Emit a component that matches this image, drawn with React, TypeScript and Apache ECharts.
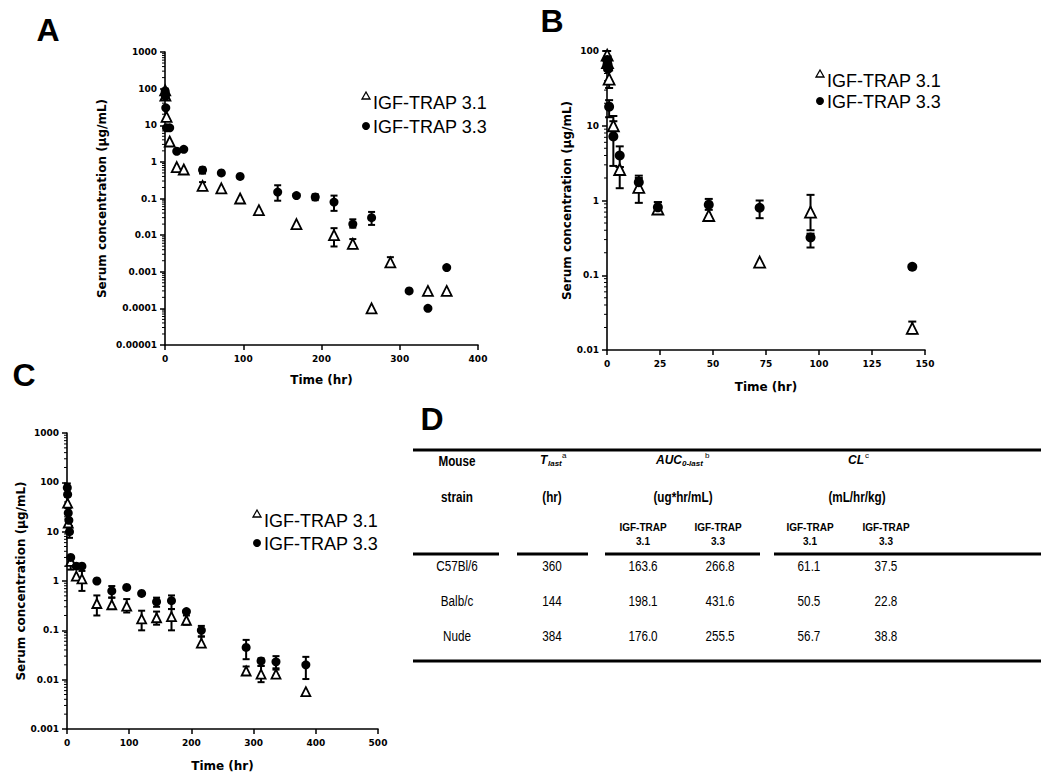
import React, { useEffect, useRef } from "react";
import * as echarts from "echarts";

// ---------- Panel A (C57Bl/6) ----------
const timeA31 = [0.25, 0.5, 2, 6, 15, 24, 48, 72, 96, 120, 168, 216, 240, 264, 288, 336, 360];
const concA31 = [90, 65, 17, 3.6, 0.72, 0.62, 0.22, 0.19, 0.1, 0.048, 0.02, 0.01, 0.0058, 0.0001, 0.0018, 0.0003, 0.0003];
const timeA33 = [0.25, 0.5, 1, 2, 6, 15, 24, 48, 72, 96, 144, 168, 192, 216, 240, 264, 312, 336, 360];
const concA33 = [85, 62, 30, 8.5, 8.5, 1.95, 2.2, 0.6, 0.5, 0.4, 0.15, 0.12, 0.11, 0.08, 0.02, 0.03, 0.0003, 0.0001, 0.0013];
const errA31 = [[48, 0.17, 0.28], [216, 0.0049, 0.0155], [240, 0.0044, 0.0078], [288, 0.0015, 0.0025]];
const errA33 = [[0.25, 70, 100], [48, 0.48, 0.7], [144, 0.087, 0.23], [192, 0.09, 0.13], [216, 0.046, 0.12], [240, 0.016, 0.027], [264, 0.019, 0.043]];
const yTicksA = ["0.00001", "0.0001", "0.001", "0.01", "0.1", "1", "10", "100", "1000"];

// ---------- Panel B (Balb/c) ----------
const timeB31 = [0.083, 0.25, 1, 3, 6, 15, 24, 48, 72, 96, 144];
const concB31 = [88, 70, 42, 10, 2.6, 1.5, 0.77, 0.63, 0.15, 0.7, 0.0195];
const timeB33 = [0.083, 0.25, 0.5, 1, 3, 6, 15, 24, 48, 72, 96, 144];
const concB33 = [76, 66, 58, 18, 7.2, 4.0, 1.76, 0.81, 0.88, 0.8, 0.32, 0.13];
const errB31 = [[0.083, 70, 100], [1, 32, 55], [3, 7.5, 13.5], [6, 1.46, 2.8], [15, 0.93, 2.0], [24, 0.68, 0.95], [96, 0.4, 1.19], [144, 0.0167, 0.024]];
const errB33 = [[0.25, 55, 85], [1, 13, 22], [3, 2.9, 11.5], [6, 2.8, 5.3], [15, 1.4, 2.15], [24, 0.68, 0.95], [48, 0.75, 1.05], [72, 0.58, 1.0], [96, 0.235, 0.36]];
const yTicksB = ["0.01", "0.1", "1", "10", "100"];

// ---------- Panel C (Nude) ----------
const timeC31 = [1, 2, 6, 15, 24, 48, 72, 96, 120, 144, 168, 192, 216, 288, 312, 336, 384];
const concC31 = [38, 15, 2.5, 1.26, 1.1, 0.35, 0.33, 0.31, 0.17, 0.18, 0.19, 0.16, 0.055, 0.015, 0.013, 0.013, 0.0057];
const timeC33 = [0.5, 1, 2, 3, 4, 6, 15, 24, 48, 72, 96, 120, 144, 168, 192, 216, 288, 312, 336, 384];
const concC33 = [78, 57, 24, 17, 10, 3.0, 2.0, 2.0, 1.0, 0.63, 0.74, 0.56, 0.38, 0.4, 0.24, 0.1, 0.045, 0.024, 0.023, 0.02];
const errC31 = [[6, 1.7, 3.1], [24, 0.63, 1.6], [48, 0.2, 0.51], [72, 0.27, 0.46], [96, 0.23, 0.43], [120, 0.1, 0.25], [144, 0.13, 0.24], [168, 0.1, 0.27], [192, 0.13, 0.2], [216, 0.05, 0.075], [288, 0.013, 0.0185], [312, 0.0089, 0.019], [336, 0.012, 0.016]];
const errC33 = [[0.5, 55, 95], [2, 18, 30], [4, 7.5, 13], [6, 2.4, 3.2], [72, 0.46, 0.79], [144, 0.3, 0.46], [168, 0.27, 0.51], [216, 0.075, 0.123], [288, 0.026, 0.064], [312, 0.019, 0.027], [336, 0.017, 0.03], [384, 0.0103, 0.029]];
const yTicksC = ["0.001", "0.01", "0.1", "1", "10", "100", "1000"];

// ---------- Table D ----------
const strains = ["C57Bl/6", "Balb/c", "Nude"];
const tlast = ["360", "144", "384"];
const auc31 = ["163.6", "198.1", "176.0"];
const auc33 = ["266.8", "431.6", "255.5"];
const cl31 = ["61.1", "50.5", "56.7"];
const cl33 = ["37.5", "22.8", "38.8"];
const seriesNames = ["IGF-TRAP 3.1", "IGF-TRAP 3.3"];

const TICK_FONT = "DejaVu Sans";
const ARIAL = "'Liberation Sans', Arial, sans-serif";

function zip(t: number[], c: number[]) {
  return t.map((x, i) => [x, c[i]]);
}

function minorTicks(minExp: number, maxExp: number) {
  const out: number[][] = [];
  for (let e = minExp; e < maxExp; e++) {
    for (let k = 2; k <= 9; k++) out.push([0, k * Math.pow(10, e)]);
  }
  return out;
}

function makeX(gridIndex: number, max: number, interval: number, nameGap: number) {
  return {
    type: "value", gridIndex, min: 0, max, interval,
    name: "Time (hr)", nameLocation: "middle", nameGap,
    nameTextStyle: { color: "#000", fontFamily: TICK_FONT, fontWeight: "bold", fontSize: 12 },
    axisLine: { show: true, onZero: false, lineStyle: { color: "#000", width: 1.6 } },
    axisTick: { show: true, length: 5, lineStyle: { color: "#000", width: 1.5 } },
    axisLabel: { color: "#000", fontFamily: TICK_FONT, fontWeight: "bold", fontSize: 9, margin: 9 },
    splitLine: { show: false },
  };
}

function makeY(gridIndex: number, min: number, max: number, labels: string[], nameGap: number) {
  return {
    type: "log", logBase: 10, gridIndex, min, max,
    name: "Serum concentration (µg/mL)", nameLocation: "middle", nameGap,
    nameTextStyle: { color: "#000", fontFamily: TICK_FONT, fontWeight: "bold", fontSize: 12 },
    axisLine: { show: true, onZero: false, lineStyle: { color: "#000", width: 1.6 } },
    axisTick: { show: true, length: 5, lineStyle: { color: "#000", width: 1.5 } },
    axisLabel: {
      color: "#000", fontFamily: TICK_FONT, fontWeight: "bold", fontSize: 9, margin: 8,
      formatter: (v: number) => labels[Math.round(Math.log10(v / min))] ?? "",
    },
    splitLine: { show: false },
  };
}

function errSeries(idx: number, data: number[][], cap: number) {
  return {
    type: "custom", xAxisIndex: idx, yAxisIndex: idx, z: 2, silent: true,
    encode: { x: 0, y: [1, 2] },
    data,
    renderItem: (_p: any, api: any) => {
      const x = api.value(0);
      const lo = api.coord([x, api.value(1)]);
      const hi = api.coord([x, api.value(2)]);
      const st = { stroke: "#000", lineWidth: 2 };
      return {
        type: "group",
        children: [
          { type: "line", shape: { x1: lo[0], y1: lo[1], x2: hi[0], y2: hi[1] }, style: st },
          { type: "line", shape: { x1: hi[0] - cap, y1: hi[1], x2: hi[0] + cap, y2: hi[1] }, style: st },
          { type: "line", shape: { x1: lo[0] - cap, y1: lo[1], x2: lo[0] + cap, y2: lo[1] }, style: st },
        ],
      };
    },
  };
}

function minorSeries(idx: number, minExp: number, maxExp: number) {
  return {
    type: "custom", xAxisIndex: idx, yAxisIndex: idx, z: 1, silent: true, clip: false,
    encode: { x: 0, y: 1 },
    data: minorTicks(minExp, maxExp),
    renderItem: (_p: any, api: any) => {
      const p = api.coord([0, api.value(1)]);
      return { type: "line", shape: { x1: p[0] - 3, y1: p[1], x2: p[0], y2: p[1] }, style: { stroke: "#000", lineWidth: 1 } };
    },
  };
}

function scatterPair(idx: number, d31: number[][], d33: number[][], triSize: number, circSize: number) {
  return [
    {
      type: "scatter", name: seriesNames[0], xAxisIndex: idx, yAxisIndex: idx, z: 4,
      symbol: "triangle", symbolSize: triSize, data: d31,
      itemStyle: { color: "#fff", borderColor: "#000", borderWidth: 1.8, opacity: 1 },
    },
    {
      type: "scatter", name: seriesNames[1], xAxisIndex: idx, yAxisIndex: idx, z: 5,
      symbol: "circle", symbolSize: circSize, data: d33,
      itemStyle: { color: "#000", opacity: 1 },
    },
  ];
}

function legendGraphic(x: number, y1: number, y2: number) {
  return [
    { type: "polygon", shape: { points: [[x, y1 - 11], [x - 4, y1 - 4], [x + 4, y1 - 4]] }, style: { fill: "#fff", stroke: "#000", lineWidth: 1.3 } },
    { type: "text", style: { x: x + 7, y: y1, text: seriesNames[0], fontFamily: ARIAL, fontSize: 18, fill: "#000", align: "left", verticalAlign: "middle" } },
    { type: "circle", shape: { cx: x, cy: y2 - 1, r: 4 }, style: { fill: "#000" } },
    { type: "text", style: { x: x + 7, y: y2, text: seriesNames[1], fontFamily: ARIAL, fontSize: 18, fill: "#000", align: "left", verticalAlign: "middle" } },
  ];
}

function txt(x: number, y: number, text: string, size: number, opts: any = {}) {
  return {
    type: "text",
    x, y,
    scaleX: opts.scaleX ?? 1,
    style: {
      x: 0, y: 0, text, fontSize: size, fontFamily: ARIAL, fontWeight: opts.weight ?? "normal",
      fontStyle: opts.style ?? "normal", fill: "#000", align: opts.align ?? "center", verticalAlign: "middle",
    },
  };
}

function hline(x1: number, x2: number, y: number, w = 3) {
  return { type: "line", shape: { x1, y1: y, x2, y2: y }, style: { stroke: "#000", lineWidth: w } };
}

function tableGraphic() {
  const els: any[] = [];
  const N = 0.78; // narrow (Calibri-like) horizontal scale
  els.push(hline(413, 1041, 450));
  els.push(txt(457, 461, "Mouse", 15, { weight: "bold", scaleX: N }));
  els.push(txt(457, 497, "strain", 15, { weight: "bold", scaleX: N }));
  // T_last^a
  els.push(txt(540, 460, "T", 12, { weight: "bold", style: "italic", align: "left" }));
  els.push(txt(548, 463, "last", 8, { weight: "bold", style: "italic", align: "left" }));
  els.push(txt(562, 455, "a", 8, { align: "left" }));
  els.push(txt(552, 497, "(hr)", 15, { weight: "bold", scaleX: N }));
  // AUC_0-last^b
  els.push(txt(656, 460, "AUC", 12, { weight: "bold", style: "italic", align: "left" }));
  els.push(txt(682, 463, "0-last", 8, { weight: "bold", style: "italic", align: "left" }));
  els.push(txt(705, 455, "b", 8, { align: "left" }));
  els.push(txt(683, 497, "(ug*hr/mL)", 15, { weight: "bold", scaleX: N }));
  // CL^c
  els.push(txt(848, 460, "CL", 12, { weight: "bold", style: "italic", align: "left" }));
  els.push(txt(865, 455, "c", 8, { align: "left" }));
  els.push(txt(857, 497, "(mL/hr/kg)", 15, { weight: "bold", scaleX: N }));
  const subX = [643, 718, 810, 886];
  const subNames = ["3.1", "3.3", "3.1", "3.3"];
  subX.forEach((x, i) => {
    els.push(txt(x, 527, "IGF-TRAP", 10, { weight: "bold" }));
    els.push(txt(x, 541, subNames[i], 10, { weight: "bold" }));
  });
  els.push(hline(413, 499, 554));
  els.push(hline(517, 588, 554));
  els.push(hline(605, 760, 554));
  els.push(hline(774, 1041, 554));
  const rowY = [566, 601, 636];
  const cols = [strains, tlast, auc31, auc33, cl31, cl33];
  const colX = [457, 552, 643, 720, 809, 886];
  rowY.forEach((y, r) => {
    cols.forEach((col, c) => els.push(txt(colX[c], y, col[r], 15, { scaleX: N })));
  });
  els.push(hline(413, 1041, 661));
  return els;
}

function letter(x: number, y: number, t: string) {
  return { type: "text", style: { x, y, text: t, fontFamily: ARIAL, fontWeight: "bold", fontSize: 32, fill: "#000", align: "center", verticalAlign: "middle" } };
}

export default function App() {
  const ref = useRef<HTMLDivElement>(null);
  useEffect(() => {
    if (!ref.current) return;
    const chart = echarts.init(ref.current, undefined, { renderer: "svg" });
    const option: any = {
      animation: false,
      backgroundColor: "#fff",
      grid: [
        { left: 165, top: 52, width: 313, height: 293 },
        { left: 607, top: 51, width: 318, height: 299 },
        { left: 67, top: 433, width: 311, height: 297 },
      ],
      xAxis: [makeX(0, 400, 100, 29), makeX(1, 150, 25, 31), makeX(2, 500, 100, 31)],
      yAxis: [makeY(0, 0.00001, 1000, yTicksA, 57), makeY(1, 0.01, 100, yTicksB, 33), makeY(2, 0.001, 1000, yTicksC, 39)],
      series: [
        minorSeries(0, -5, 3),
        minorSeries(1, -2, 2),
        minorSeries(2, -3, 3),
        errSeries(0, errA31, 3.5),
        errSeries(0, errA33, 3.5),
        errSeries(1, errB31, 4),
        errSeries(1, errB33, 4),
        errSeries(2, errC31, 3.5),
        errSeries(2, errC33, 3.5),
        ...scatterPair(0, zip(timeA31, concA31), zip(timeA33, concA33), 10, 9),
        ...scatterPair(1, zip(timeB31, concB31), zip(timeB33, concB33), 11, 10),
        ...scatterPair(2, zip(timeC31, concC31), zip(timeC33, concC33), 9, 9),
      ],
      graphic: {
        elements: [
          letter(48, 30, "A"),
          letter(552, 21, "B"),
          letter(24, 375, "C"),
          letter(432, 419, "D"),
          ...legendGraphic(366, 103, 127),
          ...legendGraphic(820, 81, 102),
          ...legendGraphic(257, 521, 544),
          ...tableGraphic(),
        ],
      },
    };
    chart.setOption(option);
    return () => chart.dispose();
  }, []);
  return <div ref={ref} style={{ position: "absolute", left: 0, top: 0, width: 1041, height: 773 }} />;
}
